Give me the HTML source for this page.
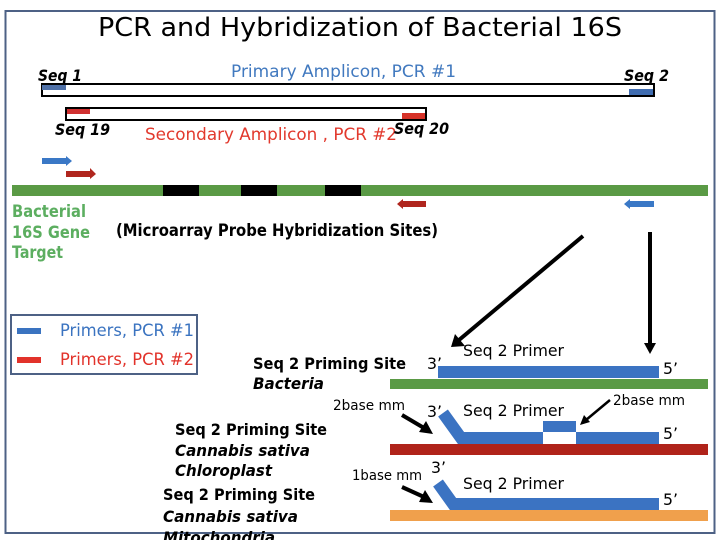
<!DOCTYPE html>
<html><head><meta charset="utf-8"><style>
html,body{margin:0;padding:0;background:#fff;}
svg{display:block;}
text{font-family:"DejaVu Sans","Liberation Sans",sans-serif;}
</style></head><body>
<svg width="720" height="540" viewBox="0 0 720 540" xmlns="http://www.w3.org/2000/svg">
<rect x="0" y="0" width="720" height="540" fill="#fff"/>
<!-- frame -->
<rect x="5.5" y="11" width="709" height="522" fill="none" stroke="#4d6185" stroke-width="2"/>
<!-- title -->
<text x="98" y="36" font-size="26" textLength="524" lengthAdjust="spacingAndGlyphs" fill="#000">PCR and Hybridization of Bacterial 16S</text>

<!-- primary amplicon -->
<rect x="42" y="84" width="612" height="12" fill="#fff" stroke="#000" stroke-width="2"/>
<rect x="42" y="85" width="24" height="5" fill="#4f71a8"/>
<rect x="629" y="89" width="24" height="6" fill="#3f6cb0"/>
<text x="38" y="81" font-size="16" font-style="italic" font-weight="bold" textLength="44" lengthAdjust="spacingAndGlyphs">Seq 1</text>
<text x="231" y="77" font-size="17" fill="#4179bf" textLength="225" lengthAdjust="spacingAndGlyphs">Primary Amplicon,  PCR #1</text>
<text x="624" y="81" font-size="16" font-style="italic" font-weight="bold" textLength="45" lengthAdjust="spacingAndGlyphs">Seq 2</text>

<!-- secondary amplicon -->
<rect x="66" y="108" width="360" height="12" fill="#fff" stroke="#000" stroke-width="2"/>
<rect x="67" y="109" width="23" height="5" fill="#d03030"/>
<rect x="402" y="113" width="23" height="6" fill="#d63228"/>
<text x="55" y="135" font-size="16" font-style="italic" font-weight="bold" textLength="55" lengthAdjust="spacingAndGlyphs">Seq 19</text>
<text x="145" y="140" font-size="17" fill="#e2392d" textLength="252" lengthAdjust="spacingAndGlyphs">Secondary  Amplicon , PCR #2</text>
<text x="394" y="134" font-size="16" font-style="italic" font-weight="bold" textLength="55" lengthAdjust="spacingAndGlyphs">Seq 20</text>

<!-- small arrows -->
<polygon points="42,158 66,158 66,156 72,161 66,166 66,164 42,164" fill="#3a78c6"/>
<polygon points="66,171 90,171 90,168 96,174 90,179 90,177 66,177" fill="#b0261e"/>
<polygon points="426,201 403,201 403,199 397,204 403,209 403,207 426,207" fill="#b0261e"/>
<polygon points="654,201 630,201 630,199 624,204 630,209 630,207 654,207" fill="#3a78c6"/>

<!-- green gene bar -->
<rect x="12" y="185" width="696" height="11" fill="#5a9a45"/>
<rect x="163" y="185" width="36" height="11" fill="#000"/>
<rect x="241" y="185" width="36" height="11" fill="#000"/>
<rect x="325" y="185" width="36" height="11" fill="#000"/>

<text x="12" y="217" font-size="17" font-weight="bold" fill="#5cae60" textLength="74" lengthAdjust="spacingAndGlyphs">Bacterial</text>
<text x="12" y="238" font-size="17" font-weight="bold" fill="#5cae60" textLength="78" lengthAdjust="spacingAndGlyphs">16S Gene</text>
<text x="12" y="258" font-size="17" font-weight="bold" fill="#5cae60" textLength="51" lengthAdjust="spacingAndGlyphs">Target</text>
<text x="116" y="236" font-size="17" font-weight="bold" textLength="322" lengthAdjust="spacingAndGlyphs">(Microarray Probe Hybridization Sites)</text>

<!-- big arrows -->
<line x1="583" y1="236" x2="459" y2="340" stroke="#000" stroke-width="4"/>
<polygon points="451,347 455,334 465,346" fill="#000"/>
<line x1="650" y1="232" x2="650" y2="344" stroke="#000" stroke-width="4"/>
<polygon points="644,343 656,343 650,354" fill="#000"/>

<!-- legend -->
<rect x="11" y="315" width="186" height="59" fill="#fff" stroke="#4d6185" stroke-width="2"/>
<rect x="17" y="328" width="24" height="6" fill="#3a73c0"/>
<text x="60" y="336" font-size="17" fill="#3a73c0" textLength="134" lengthAdjust="spacingAndGlyphs">Primers, PCR #1</text>
<rect x="17" y="357" width="24" height="6" fill="#e2322a"/>
<text x="60" y="365" font-size="17" fill="#e2322a" textLength="134" lengthAdjust="spacingAndGlyphs">Primers, PCR #2</text>

<!-- site labels -->
<text x="253" y="369" font-size="16" font-weight="bold" textLength="153" lengthAdjust="spacingAndGlyphs">Seq 2 Priming Site</text>
<text x="253" y="389" font-size="16" font-weight="bold" font-style="italic" textLength="71" lengthAdjust="spacingAndGlyphs">Bacteria</text>
<text x="175" y="435" font-size="16" font-weight="bold" textLength="152" lengthAdjust="spacingAndGlyphs">Seq 2 Priming Site</text>
<text x="175" y="456" font-size="16" font-weight="bold" font-style="italic" textLength="135" lengthAdjust="spacingAndGlyphs">Cannabis sativa</text>
<text x="175" y="476" font-size="16" font-weight="bold" font-style="italic" textLength="97" lengthAdjust="spacingAndGlyphs">Chloroplast</text>
<text x="163" y="500" font-size="16" font-weight="bold" textLength="152" lengthAdjust="spacingAndGlyphs">Seq 2 Priming Site</text>
<text x="163" y="522" font-size="16" font-weight="bold" font-style="italic" textLength="135" lengthAdjust="spacingAndGlyphs">Cannabis sativa</text>
<text x="163" y="543" font-size="16" font-weight="bold" font-style="italic" textLength="112" lengthAdjust="spacingAndGlyphs">Mitochondria</text>

<!-- row 1: bacteria -->
<rect x="390" y="379" width="318" height="10" fill="#5a9a45"/>
<rect x="438" y="366" width="221" height="12" fill="#3b73c2"/>
<text x="427" y="369" font-size="16" textLength="15" lengthAdjust="spacingAndGlyphs">3’</text>
<text x="663" y="374" font-size="16" textLength="15" lengthAdjust="spacingAndGlyphs">5’</text>
<text x="463" y="356" font-size="16" textLength="101" lengthAdjust="spacingAndGlyphs">Seq 2 Primer</text>

<!-- row 2: chloroplast -->
<rect x="390" y="444" width="318" height="11" fill="#b0231a"/>
<polyline points="443,413 461,438 659,438" fill="none" stroke="#3b73c2" stroke-width="12" stroke-linejoin="miter"/>
<rect x="543" y="432" width="33" height="12" fill="#fff"/>
<rect x="543" y="421" width="33" height="11" fill="#3b73c2"/>
<text x="427" y="417" font-size="16" textLength="15" lengthAdjust="spacingAndGlyphs">3’</text>
<text x="463" y="416" font-size="16" textLength="101" lengthAdjust="spacingAndGlyphs">Seq 2 Primer</text>
<text x="663" y="439" font-size="16" textLength="15" lengthAdjust="spacingAndGlyphs">5’</text>
<text x="333" y="410" font-size="14" textLength="72" lengthAdjust="spacingAndGlyphs">2base mm</text>
<text x="613" y="405" font-size="14" textLength="72" lengthAdjust="spacingAndGlyphs">2base mm</text>
<line x1="402" y1="415" x2="424" y2="428" stroke="#000" stroke-width="4"/>
<polygon points="433,434 419,432 426,421" fill="#000"/>
<line x1="610" y1="400" x2="586" y2="420" stroke="#000" stroke-width="2.5"/>
<polygon points="580,425 584,415 590,422" fill="#000"/>

<!-- row 3: mitochondria -->
<rect x="390" y="510" width="318" height="11" fill="#f0a04c"/>
<polyline points="438,483 453,504 659,504" fill="none" stroke="#3b73c2" stroke-width="12" stroke-linejoin="miter"/>
<text x="431" y="473" font-size="16" textLength="15" lengthAdjust="spacingAndGlyphs">3’</text>
<text x="463" y="489" font-size="16" textLength="101" lengthAdjust="spacingAndGlyphs">Seq 2 Primer</text>
<text x="663" y="505" font-size="16" textLength="15" lengthAdjust="spacingAndGlyphs">5’</text>
<text x="352" y="480" font-size="14" textLength="70" lengthAdjust="spacingAndGlyphs">1base mm</text>
<line x1="402" y1="487" x2="424" y2="497" stroke="#000" stroke-width="4"/>
<polygon points="433,503 419,502 425,490" fill="#000"/>
</svg>
</body></html>
